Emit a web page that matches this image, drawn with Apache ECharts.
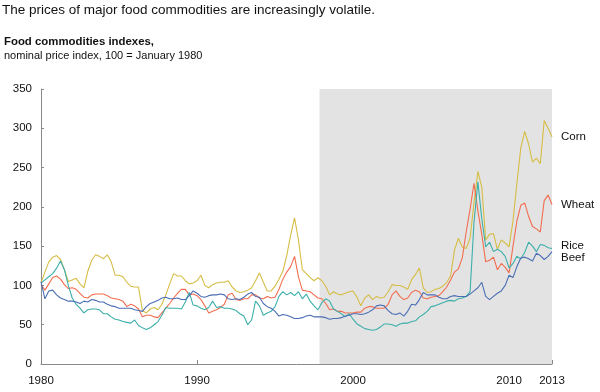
<!DOCTYPE html>
<html>
<head>
<meta charset="utf-8">
<script src="https://cdn.jsdelivr.net/npm/echarts@6/dist/echarts.min.js"></script>
<style>
html,body{margin:0;padding:0;background:#fff;}
#c{width:600px;height:392px;}
</style>
</head>
<body>
<div id="c"></div>
<script>
// Quarterly observations starting January 1980
const startYear = 1980;
const step = 0.25;
const corn = [103,117,130,136,138,133,120,105,107,109,102,97,118,132,139,137,134,139,130,113,113,111,104,99,98,98,68,65,
70,72,69,76,88,102,115,112,112,106,102,103,106,113,100,97,101,103,104,104,106,98,93,91,92,94,97,106,116,104,93,93,
99,108,118,138,164,186,158,120,115,110,106,110,106,99,88,92,89,88,90,92,93,85,74,84,88,82,86,84,85,92,101,100,
100,98,95,107,114,122,97,91,92,95,96,99,104,112,145,160,149,147,160,205,245,225,158,165,166,146,158,154,149,182,230,275,
296,280,257,262,255,310,300,289];
const wheat = [101,94,102,110,112,108,101,96,97,95,90,85,84,88,89,89,89,87,84,83,82,80,73,76,74,70,60,62,
62,60,59,65,71,77,84,90,95,95,88,89,87,82,74,65,67,69,72,76,88,90,82,81,83,83,88,88,84,83,86,84,
85,95,108,117,124,137,111,94,93,92,88,84,83,77,69,70,67,67,65,65,65,66,66,71,73,73,71,71,71,76,88,93,
86,82,84,91,94,92,84,83,85,86,87,92,98,107,117,121,135,168,197,230,195,165,130,132,136,120,128,123,116,150,182,202,
205,188,175,172,168,208,215,203];
const rice = [103,107,111,115,122,131,120,100,84,76,71,65,69,70,70,69,64,64,60,57,56,54,53,52,56,49,46,44,
46,50,54,62,72,71,71,71,70,79,91,75,74,71,69,72,80,72,73,71,71,70,68,64,61,50,56,80,74,62,65,67,
73,86,92,88,91,87,92,83,89,80,74,69,78,83,80,70,67,64,60,64,57,51,48,45,44,43,44,47,51,51,50,48,
51,52,52,54,55,60,63,67,73,74,76,78,80,81,80,83,84,86,92,180,232,185,149,155,143,146,143,137,122,128,137,134,
142,155,150,143,152,151,148,147];
const beef = [105,83,93,94,88,84,82,80,80,79,77,80,79,82,81,79,79,76,74,73,71,71,71,71,69,68,67,73,
77,79,81,84,85,83,83,84,82,82,87,93,90,86,85,87,88,88,89,88,83,82,83,82,85,89,91,86,85,77,73,71,
67,61,63,62,60,58,58,59,61,62,60,60,60,59,57,58,58,59,61,62,64,64,63,64,66,69,74,75,74,68,64,63,
65,61,67,76,75,82,91,88,88,88,85,83,83,86,87,86,86,86,89,93,97,104,86,82,86,90,93,100,113,110,124,135,
136,134,131,141,138,133,137,143];
const seriesNames = ['Corn','Wheat','Rice','Beef'];
const colors = ['#d6bd45','#f26d4f','#3bafaa','#4b6eb4'];
const yTicks = [0,50,100,150,200,250,300,350];
const xLabelValues = [1980,1990,2000,2010,2012.75];
const xLabelTexts = ['1980','1990','2000','2010','2013'];
const shadeStart = 1997.85;
const xMax = 2012.75;

function toPairs(arr){ return arr.map((v,i)=>[startYear + i*step, v]); }

const chart = echarts.init(document.getElementById('c'), null, {renderer:'canvas'});
const labelOffsets = [[0,0],[0,0],[0,-3],[0,6]];
const lineSeries = [corn, wheat, rice, beef].map((arr, i) => ({
  name: seriesNames[i],
  type: 'line',
  data: toPairs(arr),
  showSymbol: false,
  symbol: 'none',
  z: 3,
  lineStyle: {color: colors[i], width: 1.1},
  itemStyle: {color: colors[i]},
  emphasis: {disabled: true},
  endLabel: {
    show: true,
    formatter: seriesNames[i],
    color: '#111',
    fontSize: 11.5,
    fontFamily: 'Liberation Sans, Arial, sans-serif',
    distance: 9,
    offset: labelOffsets[i]
  }
}));

chart.setOption({
  animation: false,
  textStyle: {fontFamily: 'Liberation Sans, Arial, sans-serif'},
  title: [
    {text: 'The prices of major food commodities are increasingly volatile.', left: 2, top: 3, padding: 0,
     textStyle: {fontSize: 13.5, fontWeight: 'normal', color: '#111'}},
    {text: 'Food commodities indexes,', left: 4, top: 36, padding: 0,
     textStyle: {fontSize: 11.4, fontWeight: 'bold', color: '#111'}},
    {text: 'nominal price index, 100 = January 1980', left: 4, top: 50, padding: 0,
     textStyle: {fontSize: 11, fontWeight: 'normal', color: '#111'}}
  ],
  grid: {left: 41, right: 48, top: 89, bottom: 28, containLabel: false},
  xAxis: {
    type: 'value', min: startYear, max: xMax,
    axisLine: {show: true, lineStyle: {color: '#8a8a8a', width: 1}},
    axisTick: {show: true, inside: true, length: 4, customValues: [1990,2000,2010,2012.75], lineStyle: {color: '#8a8a8a'}},
    axisLabel: {
      customValues: xLabelValues,
      formatter: v => { const k = xLabelValues.indexOf(v); return k >= 0 ? xLabelTexts[k] : ''; },
      color: '#111', fontSize: 11.5, margin: 11
    },
    splitLine: {show: false}
  },
  yAxis: {
    type: 'value', min: 0, max: 350, interval: 50,
    axisLine: {show: true, lineStyle: {color: '#8a8a8a', width: 1}},
    axisTick: {show: true, inside: true, length: 3, lineStyle: {color: '#8a8a8a'}},
    axisLabel: {color: '#111', fontSize: 11.5, margin: 9,
      formatter: v => yTicks.indexOf(v) >= 0 ? String(v) : ''},
    splitLine: {show: false}
  },
  series: [
    {
      type: 'line', data: [], z: 0, silent: true,
      markArea: {
        silent: true,
        itemStyle: {color: '#e3e3e3'},
        data: [[{xAxis: shadeStart, yAxis: 0}, {xAxis: xMax, yAxis: 350}]]
      }
    }
  ].concat(lineSeries)
});
</script>
</body>
</html>
